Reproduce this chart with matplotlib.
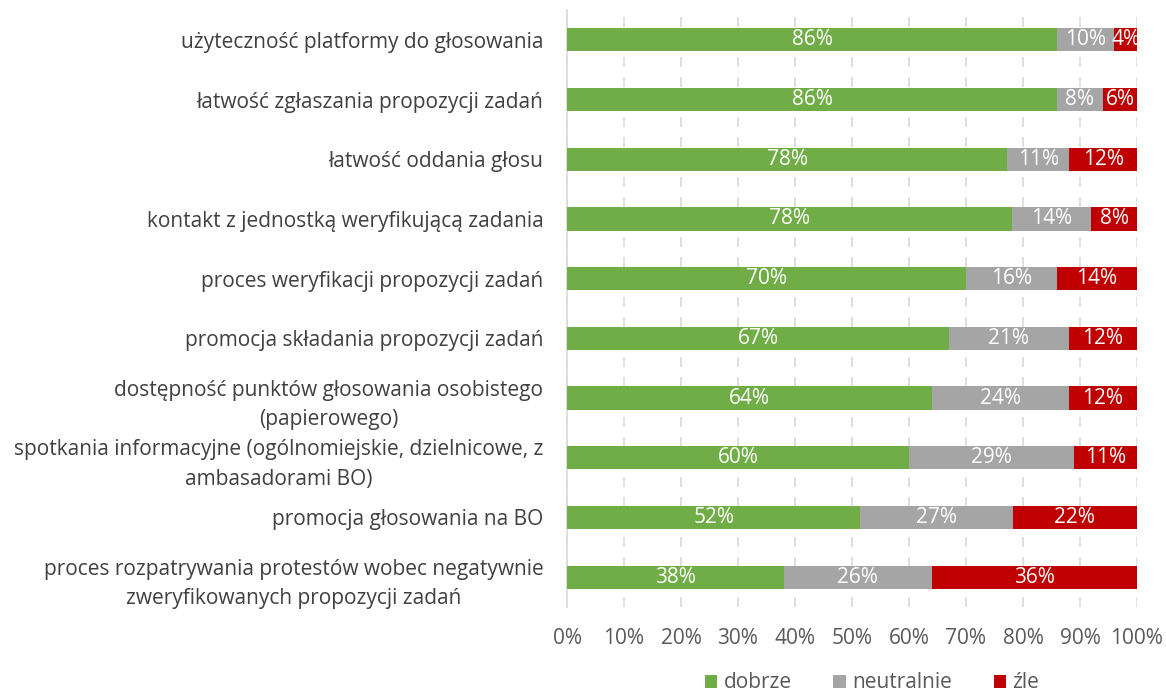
import matplotlib
matplotlib.use("Agg")
import matplotlib.pyplot as plt
import numpy as np
from matplotlib.patches import Patch

plt.rcParams['font.family'] = ['Open Sans', 'DejaVu Sans']

categories = [
    "użyteczność platformy do głosowania",
    "łatwość zgłaszania propozycji zadań",
    "łatwość oddania głosu",
    "kontakt z jednostką weryfikującą zadania",
    "proces weryfikacji propozycji zadań",
    "promocja składania propozycji zadań",
    "dostępność punktów głosowania osobistego\n(papierowego)",
    "spotkania informacyjne (ogólnomiejskie, dzielnicowe, z\nambasadorami BO)",
    "promocja głosowania na BO",
    "proces rozpatrywania protestów wobec negatywnie\nzweryfikowanych propozycji zadań",
]
dobrze = [86, 86, 78, 78, 70, 67, 64, 60, 52, 38]
neutralnie = [10, 8, 11, 14, 16, 21, 24, 29, 27, 26]
zle = [4, 6, 12, 8, 14, 12, 12, 11, 22, 36]
series_names = ["dobrze", "neutralnie", "źle"]
colors = ["#70AD47", "#A5A5A5", "#C00000"]
xticks = [0, 10, 20, 30, 40, 50, 60, 70, 80, 90, 100]

FS = 15

fig = plt.figure(figsize=(11.66, 6.93), dpi=100)
ax = fig.add_axes([567 / 1166, 1 - 607 / 693, 570 / 1166, 597 / 693])

data = np.array([dobrze, neutralnie, zle], dtype=float)
totals = data.sum(axis=0)
shares = data / totals * 100  # 100% stacked
y = np.arange(len(categories))
left = np.zeros(len(categories))
for vals, shr, col in zip(data, shares, colors):
    ax.barh(y, shr, left=left, height=0.39, color=col, zorder=3)
    for yi, v, s, l in zip(y, vals, shr, left):
        ax.text(l + s / 2, yi, f"{int(v)}%", ha="center", va="center",
                color="white", fontsize=FS, zorder=4)
    left += shr

ax.set_xlim(0, 100)
ax.set_ylim(len(categories) - 0.5, -0.5)
ax.set_xticks(xticks)
ax.set_xticklabels([f"{t}%" for t in xticks], fontsize=FS, color="#595959")
ax.set_yticks(y)
ax.set_yticklabels(categories, fontsize=FS, color="#404040",
                   multialignment="center", linespacing=1.55)
ax.tick_params(axis="both", length=0)
ax.tick_params(axis="x", pad=15)
ax.tick_params(axis="y", pad=17)
for sp in ["top", "right", "bottom"]:
    ax.spines[sp].set_visible(False)
ax.spines["left"].set_color("#D9D9D9")
ax.spines["left"].set_linewidth(1.2)
ax.grid(axis="x", color="#D9D9D9", linestyle=(0, (6, 6)), linewidth=1.2, zorder=0)
ax.set_axisbelow(True)

handles = [Patch(facecolor=c, edgecolor="none") for c in colors]
fig.legend(handles, series_names, loc="center", bbox_to_anchor=(872 / 1166, 1 - 683 / 693),
           ncol=3, frameon=False, fontsize=FS, handlelength=0.6, handleheight=0.6,
           handletextpad=0.3, columnspacing=2.0, labelcolor="#595959")

fig.savefig("out.png", dpi=100)
